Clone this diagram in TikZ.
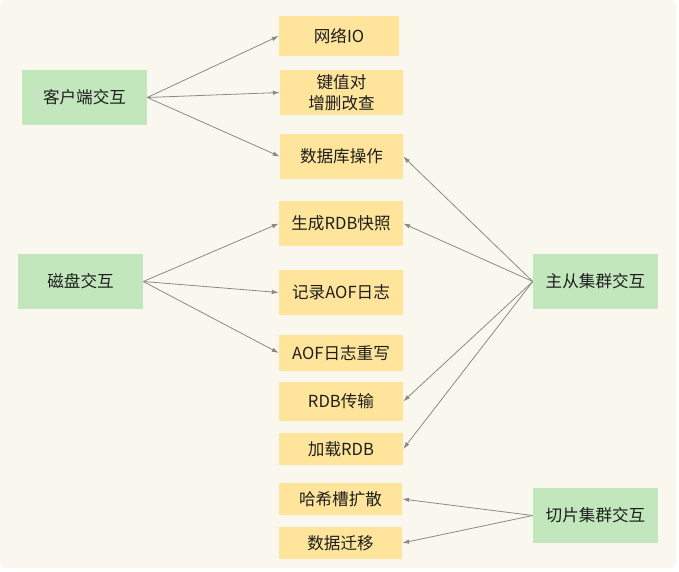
\documentclass[tikz,border=0pt]{standalone}
\usepackage{fontspec}
\setmainfont{Noto Sans CJK SC}
\usetikzlibrary{arrows.meta}
\definecolor{bg}{HTML}{F9F7EE}
\definecolor{gfill}{HTML}{C2E7BD}
\definecolor{yfill}{HTML}{FFE59B}
\definecolor{arr}{HTML}{8A8A8A}
\definecolor{txt}{HTML}{1E1E1E}
\begin{document}
\begin{tikzpicture}[x=1pt,y=-1pt,
  box/.style={rectangle, inner sep=0pt, text=txt, font=\fontsize{16.6}{20.5}\selectfont, align=center},
  gbox/.style={box, fill=gfill, minimum width=125pt, minimum height=55pt},
  ybox/.style={box, fill=yfill},
  link/.style={draw=arr, line width=0.8pt, -{Latex[length=7pt,width=4.5pt]}}]
\useasboundingbox (0,0) rectangle (679,572);
\fill[bg, rounded corners=6pt] (0,0) rectangle (676,568);
% green nodes
\node[gbox] (client) at (84.5,97.5) {客户端交互};
\node[gbox] (disk) at (80.5,281.5) {磁盘交互};
\node[gbox] (ms) at (595.5,281.5) {主从集群交互};
\node[gbox] (slice) at (595.5,515.5) {切片集群交互};
% yellow nodes
\node[ybox, minimum width=120pt, minimum height=40pt] (io) at (339,36) {网络IO};
\node[ybox, minimum width=123pt, minimum height=45pt] (kv) at (341.5,92.5) {键值对\\增删改查};
\node[ybox, minimum width=123pt, minimum height=45pt] (db) at (341.5,156.5) {数据库操作};
\node[ybox, minimum width=124pt, minimum height=45pt] (rdb) at (341,223.5) {生成RDB快照};
\node[ybox, minimum width=124pt, minimum height=45pt] (aof) at (341,292.5) {记录AOF日志};
\node[ybox, minimum width=124pt, minimum height=36pt] (rw) at (341,353) {AOF日志重写};
\node[ybox, minimum width=124pt, minimum height=39pt] (trans) at (341,401.5) {RDB传输};
\node[ybox, minimum width=124pt, minimum height=32pt] (load) at (341,449) {加载RDB};
\node[ybox, minimum width=123pt, minimum height=32pt] (hash) at (340.5,499) {哈希槽扩散};
\node[ybox, minimum width=123pt, minimum height=32pt] (mig) at (340.5,543) {数据迁移};
% connectors
\draw[link] (client.east) -- (io.west);
\draw[link] (client.east) -- (kv.west);
\draw[link] (client.east) -- (db.west);
\draw[link] (disk.east) -- (rdb.west);
\draw[link] (disk.east) -- (aof.west);
\draw[link] (disk.east) -- (rw.west);
\draw[link] (ms.west) -- (db.east);
\draw[link] (ms.west) -- (rdb.east);
\draw[link] (ms.west) -- (trans.east);
\draw[link] (ms.west) -- (load.east);
\draw[link] (slice.west) -- (hash.east);
\draw[link] (slice.west) -- (mig.east);
\end{tikzpicture}
\end{document}
